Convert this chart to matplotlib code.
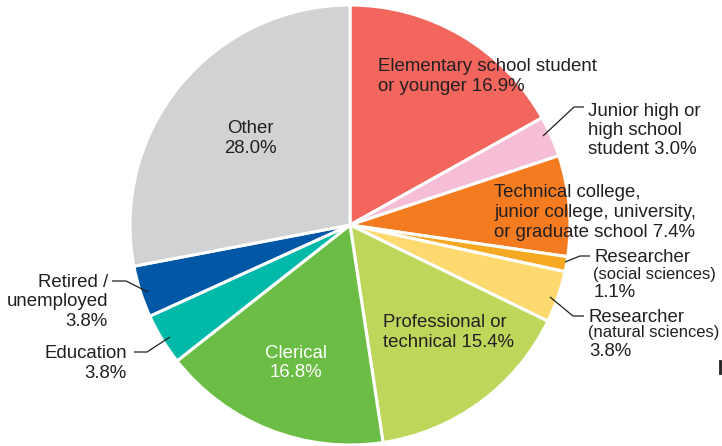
import matplotlib
matplotlib.use("Agg")
import matplotlib.pyplot as plt

# Share of respondents by occupation (%)
categories = [
    "Elementary school student or younger",
    "Junior high or high school student",
    "Technical college, junior college, university, or graduate school",
    "Researcher (social sciences)",
    "Researcher (natural sciences)",
    "Professional or technical",
    "Clerical",
    "Education",
    "Retired / unemployed",
    "Other",
]
values = [16.9, 3.0, 7.4, 1.1, 3.8, 15.4, 16.8, 3.8, 3.8, 28.0]
colors = [
    "#F2665E", "#F6BDD6", "#F47B20", "#F7A823", "#FDD96F",
    "#BED75A", "#6CBD45", "#00B9A8", "#0057A6", "#D1D2D4",
]

W, H = 722, 446
TXT = "#231F20"
FONT = "Liberation Sans"
F = 13.4   # main label size (pt)
S = 11.9   # sub-label size (pt)

fig = plt.figure(figsize=(W / 100, H / 100), dpi=100)
ax = fig.add_axes([0, 0, 1, 1])

ax.pie(values, colors=colors, startangle=90, counterclock=False,
       center=(350, H - 225), radius=220,
       wedgeprops=dict(edgecolor="white", linewidth=2.2))
ax.set_xlim(0, W)
ax.set_ylim(0, H)
ax.set_aspect("equal")
ax.axis("off")


def pct(i):
    return f"{values[i]:.1f}%"


def line(x, baseline, text, size=F, ha="left", color=TXT):
    ax.text(x, H - baseline, text, ha=ha, va="baseline", fontsize=size,
            family=FONT, color=color)


def block(x, first_baseline, lines, ha="left", step=19.6, color=TXT):
    for k, text in enumerate(lines):
        line(x, first_baseline + k * step, text, ha=ha, color=color)


def leader(points):
    xs = [p[0] for p in points]
    ys = [H - p[1] for p in points]
    ax.plot(xs, ys, color=TXT, lw=0.9, solid_capstyle="butt")


block(378, 71, ["Elementary school student", "or younger " + pct(0)])

block(588, 116, ["Junior high or", "high school", "student " + pct(1)], step=19.2)
leader([(543, 136), (574, 107), (584, 107)])

block(494, 196.7, ["Technical college,", "junior college, university,",
                   "or graduate school " + pct(2)], step=20)

line(594, 262.3, "Researcher")
line(593, 279, "(social sciences)", size=S)
line(594, 297, pct(3))
leader([(565, 262), (580, 256), (590, 256)])

line(589, 321.5, "Researcher")
line(588, 337, "(natural sciences)", size=S)
line(589, 356.5, pct(4))
leader([(550, 297), (573, 316), (584, 316)])

block(383, 327.3, ["Professional or", "technical " + pct(5)])
block(296, 357.5, ["Clerical", pct(6)], ha="center", color="white")
block(127, 358.3, ["Education", pct(7)], ha="right")
leader([(170, 337), (147, 352), (134, 352)])
block(108, 286.7, ["Retired /", "unemployed", pct(8)], ha="right")
leader([(148, 292), (126, 281), (112, 281)])
block(250, 133.3, ["Other", pct(9)], ha="center", step=20)

# clipped glyph at the right edge
ax.plot([720, 720], [H - 361, H - 373], color=TXT, lw=2.0)

fig.savefig("out.png", dpi=100)
